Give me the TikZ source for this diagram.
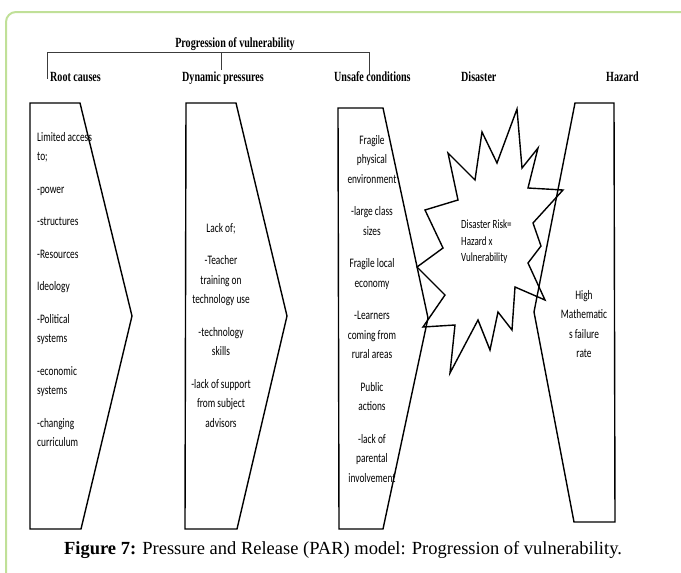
\documentclass[tikz,border=0pt]{standalone}
\usepackage{fontspec}
\setmainfont{Liberation Serif}
\newfontfamily\hdrfont[FakeStretch=0.72]{Liberation Serif}
\newfontfamily\bodyfont[FakeStretch=0.72]{Carlito}
\definecolor{framegreen}{RGB}{192,224,152}
\definecolor{brackgray}{RGB}{60,60,60}

\begin{document}
\begin{tikzpicture}[x=1pt,y=-1pt,
  hdr/.style={font=\hdrfont\bfseries\fontsize{14}{16}\selectfont,inner sep=0pt,anchor=base west},
  body/.style={font=\bodyfont\fontsize{13}{19.5}\selectfont,inner sep=0pt},
  parshape/.style={draw=black,line width=1.4pt,line join=miter},
  brack/.style={draw=brackgray,line width=0.9pt}]

\useasboundingbox (0,0) rectangle (681,573);

%page frame
\draw[framegreen,line width=2pt,rounded corners=10pt] (690,12) -- (6,12) -- (6,590);

%title and bracket
\node[hdr,anchor=base](title) at (235,47){Progression of vulnerability};
\coordinate (bl) at (47,52);
\coordinate (bm) at (221,52);
\coordinate (br) at (369,52);
\draw[brack] (bl) -- (br);
\draw[brack] (bl) -- ++(0,27);
\draw[brack] (bm) -- ++(0,18);
\draw[brack] (br) -- ++(0,23);

%column heads
\node[hdr](roothdr) at (50,81){Root causes};
\node[hdr](dynhdr) at (182,81){Dynamic pressures};
\node[hdr](unsafehdr) at (334,81){Unsafe conditions};
\node[hdr](disasterhdr) at (461,81){Disaster};
\node[hdr](hazardhdr) at (606,81){Hazard};

%the five shapes
\draw[parshape] (30,103) -- (80,103) -- (132,316) -- (81,529) -- (30,529) -- cycle;
\draw[parshape] (186,103) -- (236,103) -- (287,316) -- (237,529) -- (185,529) -- cycle;
\draw[parshape] (338,108) -- (383,108) -- (428,318) -- (383,529) -- (339,529) -- cycle;
\draw[parshape] (575,103) -- (614,103) -- (615,522) -- (574,522) -- (534,312) -- cycle;
%starburst
\draw[parshape] (517,109) -- (522,168) -- (538,148) -- (528,188) -- (563,190)
  -- (533,223) -- (541,246) -- (528,263) -- (545,300) -- (515,287)
  -- (512,330) -- (498,312) -- (490,350) -- (478,320) -- (450,373)
  -- (455,325) -- (423,327) -- (445,295) -- (417,267) -- (443,248)
  -- (425,210) -- (458,200) -- (448,153) -- (475,180) -- (482,132)
  -- (497,163) -- cycle;

%texts
\node[body,align=left,anchor=north west](roottxt) at (37,132){Limited access\\ to;\\[13pt]
  -power\\[13pt] -structures\\[13pt] -Resources\\[13pt] Ideology\\[13pt]
  -Political\\ systems\\[13pt] -economic\\ systems\\[13pt] -changing\\ curriculum};
\node[body,align=center,anchor=north](dyntxt) at (221,223){Lack of;\\[13pt]
  -Teacher\\ training on\\ technology use\\[13pt] -technology\\ skills\\[13pt]
  -lack of support\\ from subject\\ advisors};
\node[body,align=center,anchor=north](unsafetxt) at (372,135){Fragile\\ physical\\ environment\\[13pt]
  -large class\\ sizes\\[13pt] Fragile local\\ economy\\[13pt]
  -Learners\\ coming from\\ rural areas\\[13pt] Public\\ actions\\[13pt]
  -lack of\\ parental\\ involvement};
\node[body,font=\bodyfont\fontsize{12.5}{16.5}\selectfont,align=left,anchor=north west](risktxt) at (461,220){Disaster Risk=\\ Hazard x\\ Vulnerability};
\node[body,align=center,anchor=north](hazardtxt) at (584,290){High\\ Mathematic\\ s failure\\ rate};

%caption
\node[anchor=base,font=\fontsize{18.5}{22}\selectfont](caption) at (343,554){\textbf{Figure 7:} Pressure and Release (PAR) model: Progression of vulnerability.};

\end{tikzpicture}
\end{document}
